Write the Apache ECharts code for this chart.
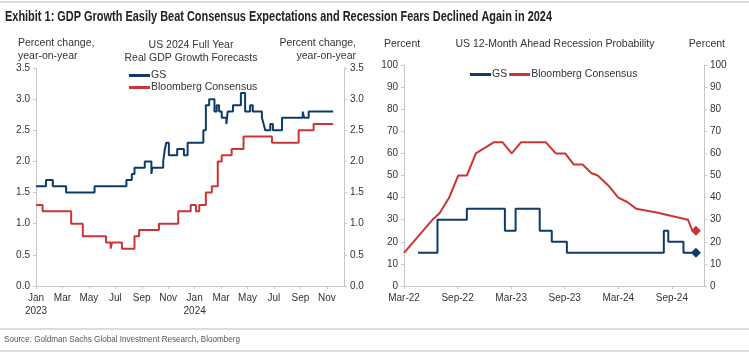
<!DOCTYPE html>
<html>
<head>
<meta charset="utf-8">
<script src="https://cdn.jsdelivr.net/npm/echarts@6/dist/echarts.min.js"></script>
<style>
  html, body { margin: 0; padding: 0; background: #fff; }
  #chart { width: 749px; height: 353px; }
</style>
</head>
<body>
<div id="chart"></div>
<script>
// left panel: months since Jan 2023, GDP forecast (%)
const gdpTicks = ['Jan\n2023', 'Mar', 'May', 'Jul', 'Sep', 'Nov', 'Jan\n2024', 'Mar', 'May', 'Jul', 'Sep', 'Nov']
const gdpGsT = [0, 0.76, 1.27, 2.28, 4.43, 6.84, 7.25, 7.45, 8.23, 8.73, 8.8, 9.62, 9.75, 9.85, 10.05, 10.68, 11.19, 11.47, 12.66, 12.85, 13.1, 13.5, 13.67, 13.85, 14.05, 14.4, 14.5, 14.9, 15.5, 15.82, 16.2, 16.4, 17.09, 17.22, 17.34, 17.72, 17.92, 18.61, 20.18, 20.28, 20.63, 22.48]
const gdpGsV = [1.6, 1.7, 1.6, 1.5, 1.6, 1.7, 1.8, 1.9, 2.0, 1.8, 1.9, 2.0, 2.2, 2.3, 2.1, 2.2, 2.1, 2.3, 2.5, 2.9, 3.0, 2.8, 2.9, 2.8, 2.7, 2.6, 2.8, 2.9, 3.1, 2.8, 2.9, 2.8, 2.7, 2.6, 2.5, 2.6, 2.5, 2.7, 2.8, 2.7, 2.8, 2.8]
const gdpBbT = [0, 0.5, 2.66, 3.54, 5.3, 5.65, 5.75, 6.5, 7.45, 7.8, 9.3, 10.76, 11.7, 12.1, 12.35, 12.85, 13.3, 13.75, 14.05, 14.8, 15.7, 17.85, 19.87, 21.0, 22.48]
const gdpBbV = [1.3, 1.2, 1.0, 0.8, 0.7, 0.6, 0.7, 0.6, 0.8, 0.9, 1.0, 1.2, 1.3, 1.2, 1.3, 1.5, 1.6, 2.0, 2.1, 2.2, 2.4, 2.3, 2.5, 2.6, 2.6]

// right panel: months since Mar 2022, recession probability (%)
const recTicks = ['Mar-22', 'Sep-22', 'Mar-23', 'Sep-23', 'Mar-24', 'Sep-24']
const recGsT = [1.57, 3.75, 7.04, 11.3, 12.5, 15.2, 16.55, 18.24, 29.1, 29.6, 31.3, 32.7]
const recGsV = [15, 30, 35, 25, 35, 25, 20, 15, 25, 20, 15, 15]
const recBbT = [0, 3.2, 4.0, 5.06, 6.07, 7.04, 8.05, 10.04, 11.05, 12.06, 13.1, 15.9, 17.0, 18.05, 19.0, 20.0, 21.0, 21.7, 23.0, 24.0, 25.0, 26.0, 28.3, 31.8, 32.3, 32.7]
const recBbV = [15, 30, 33, 40, 50, 50, 60, 65, 65, 60, 65, 65, 60, 60, 55, 55, 51, 50, 45, 40, 38, 35, 33.3, 30, 25, 25]

const navy = '#0e3a68'
const red = '#cc3535'
const axisGray = '#c8c8c8'
const txt = '#333'
const font = '"Liberation Sans", Arial, sans-serif'

const zip = (t, v) => t.map((x, i) => [x, v[i]])

// squeeze a line of text into a given width (the original uses a narrow face)
const ctx = document.createElement('canvas').getContext('2d')
const fitX = (text, f, width) => {
  ctx.font = f
  return width / ctx.measureText(text).width
}

const titleText = 'Exhibit 1: GDP Growth Easily Beat Consensus Expectations and Recession Fears Declined Again in 2024'
const titleFont = 'bold 14px ' + font
const srcText = 'Source: Goldman Sachs Global Investment Research, Bloomberg'
const srcFont = '9px ' + font

const chart = echarts.init(document.getElementById('chart'), null, { renderer: 'canvas' })

const xBase = {
  type: 'value',
  axisLine: { lineStyle: { color: axisGray } },
  axisTick: { show: true, length: 3, lineStyle: { color: axisGray } },
  splitLine: { show: false },
  axisLabel: { color: txt, fontSize: 10, fontFamily: font, showMaxLabel: false, margin: 6, lineHeight: 13 }
}
const yBase = {
  type: 'value',
  axisLine: { show: true, lineStyle: { color: axisGray } },
  axisTick: { show: true, length: 3, lineStyle: { color: axisGray } },
  splitLine: { show: false },
  axisLabel: { color: txt, fontSize: 10, fontFamily: font, margin: 6 }
}

const hdr = (x, y, text, align) => ({
  type: 'text', x: x, y: y,
  style: { text: text, fill: txt, font: '10.5px ' + font, textAlign: align || 'left', lineHeight: 13 }
})

const option = {
  animation: false,
  graphic: [
    { type: 'rect', shape: { x: 0, y: 1, width: 749, height: 2 }, style: { fill: '#dcdcdc' } },
    { type: 'text', x: 5, y: 10, scaleX: fitX(titleText, titleFont, 547),
      style: { text: titleText, fill: '#222', font: titleFont } },
    hdr(18, 37, 'Percent change,\nyear-on-year', 'left'),
    hdr(191, 39, 'US 2024 Full Year\nReal GDP Growth Forecasts', 'center'),
    hdr(356, 37, 'Percent change,\n  year-on-year', 'right'),
    hdr(384, 38, 'Percent', 'left'),
    hdr(555, 38, 'US 12-Month Ahead Recession Probability', 'center'),
    hdr(725, 38, 'Percent', 'right'),
    { type: 'rect', shape: { x: 0, y: 328, width: 749, height: 2 }, style: { fill: '#dcdcdc' } },
    { type: 'text', x: 4, y: 335, scaleX: fitX(srcText, srcFont, 236),
      style: { text: srcText, fill: '#555', font: srcFont } },
    { type: 'rect', shape: { x: 0, y: 350, width: 749, height: 2 }, style: { fill: '#dcdcdc' } }
  ],
  legend: [
    {
      orient: 'vertical', left: 124, top: 65, itemGap: 1, itemWidth: 21, itemHeight: 3, icon: 'rect',
      textStyle: { color: txt, fontSize: 10.5, fontFamily: font, padding: [0, 0, 0, -4] },
      data: ['GS', 'Bloomberg Consensus']
    },
    {
      orient: 'horizontal', left: 465, top: 64, itemGap: 2, itemWidth: 21, itemHeight: 3, icon: 'rect',
      textStyle: { color: txt, fontSize: 10.5, fontFamily: font, padding: [0, 0, 0, -4] },
      data: ['GS', 'Bloomberg Consensus']
    }
  ],
  grid: [
    { left: 36, right: 405, top: 68, bottom: 67 },
    { left: 404, right: 45, top: 65, bottom: 67 }
  ],
  xAxis: [
    Object.assign({}, xBase, {
      gridIndex: 0, min: 0, max: 23.3, interval: 2,
      axisLabel: Object.assign({}, xBase.axisLabel, { formatter: v => gdpTicks[v / 2] || '' })
    }),
    Object.assign({}, xBase, {
      gridIndex: 1, min: 0, max: 33.6, interval: 6,
      axisLabel: Object.assign({}, xBase.axisLabel, { formatter: v => recTicks[v / 6] || '' })
    })
  ],
  yAxis: [
    Object.assign({}, yBase, { gridIndex: 0, position: 'left', min: 0, max: 3.5, interval: 0.5,
      axisLabel: Object.assign({}, yBase.axisLabel, { formatter: v => v.toFixed(1) }) }),
    Object.assign({}, yBase, { gridIndex: 0, position: 'right', min: 0, max: 3.5, interval: 0.5,
      axisLabel: Object.assign({}, yBase.axisLabel, { formatter: v => v.toFixed(1) }) }),
    Object.assign({}, yBase, { gridIndex: 1, position: 'left', min: 0, max: 100, interval: 10 }),
    Object.assign({}, yBase, { gridIndex: 1, position: 'right', min: 0, max: 100, interval: 10 })
  ],
  series: [
    { name: 'GS', type: 'line', xAxisIndex: 0, yAxisIndex: 0, step: 'end', symbol: 'none',
      lineStyle: { color: navy, width: 2 }, itemStyle: { color: navy }, data: zip(gdpGsT, gdpGsV) },
    { name: 'Bloomberg Consensus', type: 'line', xAxisIndex: 0, yAxisIndex: 0, step: 'end', symbol: 'none',
      lineStyle: { color: red, width: 2 }, itemStyle: { color: red }, data: zip(gdpBbT, gdpBbV) },
    { name: 'GS', type: 'line', xAxisIndex: 1, yAxisIndex: 2, step: 'end', symbol: 'none',
      lineStyle: { color: navy, width: 2 }, itemStyle: { color: navy }, data: zip(recGsT, recGsV) },
    { name: 'Bloomberg Consensus', type: 'line', xAxisIndex: 1, yAxisIndex: 2, symbol: 'none',
      lineStyle: { color: red, width: 2 }, itemStyle: { color: red }, data: zip(recBbT, recBbV) },
    { type: 'scatter', xAxisIndex: 1, yAxisIndex: 2, symbol: 'diamond', symbolSize: 10,
      itemStyle: { color: navy, opacity: 1 }, data: [[recGsT[recGsT.length - 1], recGsV[recGsV.length - 1]]] },
    { type: 'scatter', xAxisIndex: 1, yAxisIndex: 2, symbol: 'diamond', symbolSize: 10,
      itemStyle: { color: red, opacity: 1 }, data: [[recBbT[recBbT.length - 1], recBbV[recBbV.length - 1]]] }
  ]
}

chart.setOption(option)
</script>
</body>
</html>
